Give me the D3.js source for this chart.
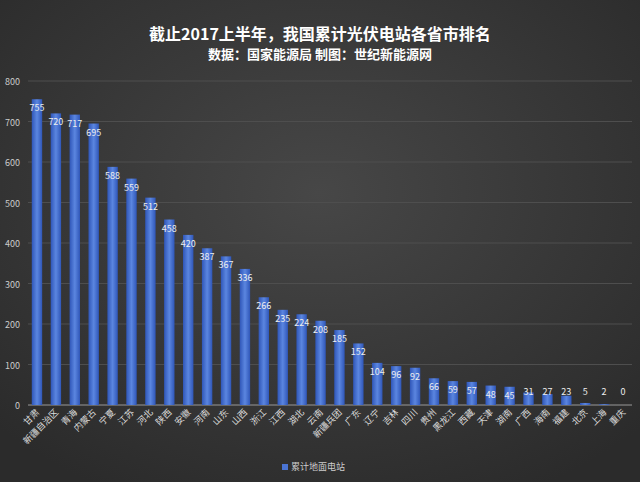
<!DOCTYPE html>
<html><head><meta charset="utf-8">
<script src="https://cdn.jsdelivr.net/npm/d3@7"></script>
<style>body{margin:0;background:#333}</style></head>
<body><script>
var provinces = ["甘肃","新疆自治区","青海","内蒙古","宁夏","江苏","河北","陕西","安徽","河南","山东","山西","浙江","江西","湖北","云南","新疆兵团","广东","辽宁","吉林","四川","贵州","黑龙江","西藏","天津","湖南","广西","海南","福建","北京","上海","重庆"];
var values = [755,720,717,695,588,559,512,458,420,387,367,336,266,235,224,208,185,152,104,96,92,66,59,57,48,45,31,27,23,5,2,0];
var yTicks = [0,100,200,300,400,500,600,700,800];

var width = 640, height = 482;
var margin = {top: 81, left: 28, right: 8, bottom: 77};
var font = "'Noto Sans CJK SC', sans-serif";

var svg = d3.select("body").append("svg").attr("width", width).attr("height", height);
var grad = svg.append("defs").append("radialGradient").attr("id","bg").attr("cx","50%").attr("cy","40%").attr("r","70%");
grad.append("stop").attr("offset","0%").attr("stop-color","#474747");
grad.append("stop").attr("offset","100%").attr("stop-color","#2b2b2b");
svg.append("rect").attr("width",width).attr("height",height).attr("fill","url(#bg)");

var bg = svg.append("linearGradient").attr("id","bar").attr("x1","0").attr("x2","1");
bg.append("stop").attr("offset","0%").attr("stop-color","#2f56b8");
bg.append("stop").attr("offset","50%").attr("stop-color","#5b86e0");
bg.append("stop").attr("offset","100%").attr("stop-color","#2f56b8");

var x = d3.scaleBand().domain(provinces).range([margin.left, width - margin.right]).paddingInner(0.45).paddingOuter(0.2);
var y = d3.scaleLinear().domain([0,800]).range([height - margin.bottom, margin.top]);

svg.append("g").selectAll("line").data(yTicks).enter().append("line")
  .attr("x1", margin.left).attr("x2", width - margin.right)
  .attr("y1", d => y(d)).attr("y2", d => y(d))
  .attr("stroke", d => d === 0 ? "#999" : "#4e4e4e").attr("stroke-width", 1);

svg.append("g").selectAll("text").data(yTicks).enter().append("text")
  .attr("x", margin.left - 8).attr("y", d => y(d) + 4).attr("text-anchor","end")
  .attr("fill","#ccc").attr("font-size",9).attr("font-family",font).text(d => d);

svg.append("g").selectAll("rect").data(values).enter().append("rect")
  .attr("x", (d,i) => x(provinces[i])).attr("width", x.bandwidth())
  .attr("y", d => y(d)).attr("height", d => y(0) - y(d)).attr("fill","url(#bar)");

svg.append("g").selectAll("text").data(values).enter().append("text")
  .attr("x", (d,i) => x(provinces[i]) + x.bandwidth()/2)
  .attr("y", d => d < 40 ? y(0) - 10 : y(d) + 12)
  .attr("text-anchor","middle").attr("fill","#eee").attr("font-size",9).attr("font-family",font).text(d => d);

svg.append("g").selectAll("text").data(provinces).enter().append("text")
  .attr("transform", d => "translate(" + (x(d) + x.bandwidth()/2 + 3) + "," + (y(0) + 8) + ") rotate(-45)")
  .attr("text-anchor","end").attr("fill","#ddd").attr("font-size",9).attr("font-family",font).text(d => d);

svg.append("text").attr("x", width/2).attr("y", 40).attr("text-anchor","middle")
  .attr("fill","#fff").attr("font-size",16).attr("font-weight","bold").attr("font-family",font)
  .text("截止2017上半年，我国累计光伏电站各省市排名");
svg.append("text").attr("x", width/2).attr("y", 59).attr("text-anchor","middle")
  .attr("fill","#fff").attr("font-size",13).attr("font-weight","bold").attr("font-family",font)
  .text("数据：国家能源局 制图：世纪新能源网");

svg.append("rect").attr("x", 282).attr("y", 464).attr("width",6).attr("height",6).attr("fill","#4a74d4");
svg.append("text").attr("x", 291).attr("y", 470).attr("fill","#ccc").attr("font-size",9).attr("font-family",font).text("累计地面电站");
</script></body></html>
